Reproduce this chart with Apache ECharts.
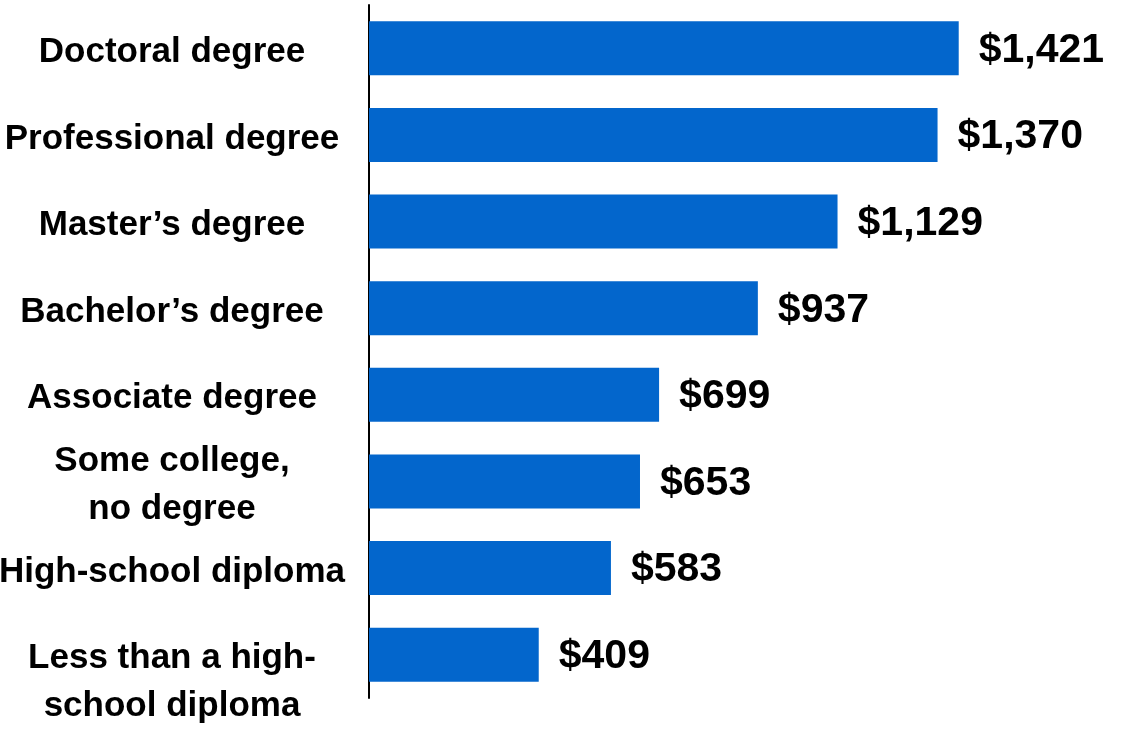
<!DOCTYPE html>
<html>
<head>
<meta charset="utf-8">
<script src="https://cdn.jsdelivr.net/npm/echarts@6/dist/echarts.min.js"></script>
<style>
html,body{margin:0;padding:0;background:#fff;}
#chart{width:1128px;height:731px;}
</style>
</head>
<body>
<div id="chart"></div>
<script>
const categories = [
  "Doctoral degree",
  "Professional degree",
  "Master\u2019s degree",
  "Bachelor\u2019s degree",
  "Associate degree",
  "Some college,\nno degree",
  "High-school diploma",
  "Less than a high-\nschool diploma"
];
const weeklyEarnings = [1421, 1370, 1129, 937, 699, 653, 583, 409];

const chart = echarts.init(document.getElementById('chart'), null, {renderer: 'canvas'});

function labelFormatter(value, index) {
  let lines = value.split('\n').map(function (l) { return '{a|' + l + '}'; });
  if (index === categories.length - 1) {
    lines = ['{a| }'].concat(lines);
  }
  return lines.join('\n');
}

chart.setOption({
  animation: false,
  backgroundColor: '#ffffff',
  grid: { left: 369, top: 5, width: 747, height: 693, containLabel: false, outerBoundsMode: 'none' },
  xAxis: {
    type: 'value',
    min: 0,
    max: 1800,
    show: false
  },
  yAxis: {
    type: 'category',
    inverse: true,
    data: categories,
    axisLine: { show: true, lineStyle: { color: '#000000', width: 2 } },
    axisTick: { show: false },
    splitLine: { show: false },
    axisLabel: {
      interval: 0,
      hideOverlap: false,
      align: 'center',
      margin: 197,
      color: '#000000',
      fontFamily: 'Liberation Sans, Arial, sans-serif',
      fontWeight: 'bold',
      fontSize: 35,
      lineHeight: 48,
      formatter: labelFormatter,
      rich: {
        a: {
          color: '#000000',
          fontFamily: 'Liberation Sans, Arial, sans-serif',
          fontWeight: 'bold',
          fontSize: 35,
          lineHeight: 48,
          padding: [8, 0, 0, 0]
        }
      }
    }
  },
  series: [{
    type: 'bar',
    data: weeklyEarnings,
    barWidth: 54,
    itemStyle: { color: '#0366cc' },
    label: {
      show: true,
      position: 'right',
      distance: 20,
      offset: [0, 2],
      color: '#000000',
      fontFamily: 'Liberation Sans, Arial, sans-serif',
      fontWeight: 'bold',
      fontSize: 41,
      formatter: function (p) { return '$' + p.value.toLocaleString('en-US'); }
    }
  }]
});
</script>
</body>
</html>
